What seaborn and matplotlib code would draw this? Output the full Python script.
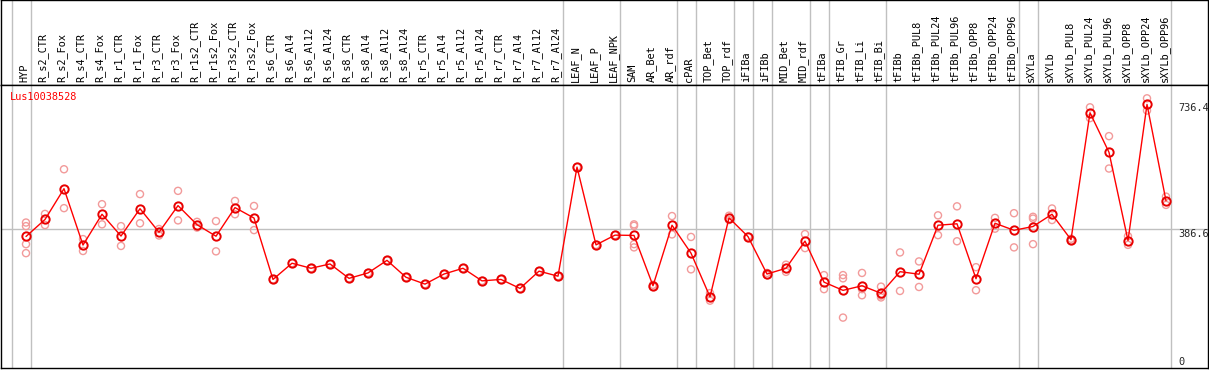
import numpy as np
import pandas as pd
import matplotlib
matplotlib.use('Agg')
import matplotlib.pyplot as plt
import seaborn as sns

####################################
samples = [
    'HYP',
    'R_s2_CTR', 'R_s2_Fox', 'R_s4_CTR', 'R_s4_Fox', 'R_r1_CTR', 'R_r1_Fox',
    'R_r3_CTR', 'R_r3_Fox', 'R_r1s2_CTR', 'R_r1s2_Fox', 'R_r3s2_CTR', 'R_r3s2_Fox',
    'R_s6_CTR', 'R_s6_Al4', 'R_s6_Al12', 'R_s6_Al24',
    'R_s8_CTR', 'R_s8_Al4', 'R_s8_Al12', 'R_s8_Al24',
    'R_r5_CTR', 'R_r5_Al4', 'R_r5_Al12', 'R_r5_Al24',
    'R_r7_CTR', 'R_r7_Al4', 'R_r7_Al12', 'R_r7_Al24',
    'LEAF_N', 'LEAF_P', 'LEAF_NPK',
    'SAM', 'AR_Bet', 'AR_rdf', 'cPAR', 'TOP_Bet', 'TOP_rdf',
    'iFIBa', 'iFIBb', 'MID_Bet', 'MID_rdf', 'tFIBa',
    'tFIB_Gr', 'tFIB_Li', 'tFIB_Bi', 'tFIBb',
    'tFIBb_PUL8', 'tFIBb_PUL24', 'tFIBb_PUL96',
    'tFIBb_OPP8', 'tFIBb_OPP24', 'tFIBb_OPP96',
    'sXYLa', 'sXYLb',
    'sXYLb_PUL8', 'sXYLb_PUL24', 'sXYLb_PUL96',
    'sXYLb_OPP8', 'sXYLb_OPP24', 'sXYLb_OPP96',
]

# replicate expression values per sample
replicates = [
    [404, 394, 344, 319],
    [428, 397], [552, 444], [358, 325], [455, 399], [394, 339], [483, 402],
    [386, 368], [492, 410], [406, 390], [408, 324], [464, 427], [450, 383],
    [246], [291], [277], [289],
    [249], [264], [299], [252],
    [233], [261], [277], [242],
    [246], [221], [269], [255],
    [558], [342], [369],
    [399, 395, 344, 335], [231, 226], [422, 371], [364, 274], [208, 187], [423, 411],
    [365], [264, 258], [287, 267], [372, 333], [258, 219],
    [258, 249, 140], [264, 219, 202], [226, 201, 196], [321, 214],
    [296, 225], [424, 369], [449, 352],
    [280, 216], [417, 387], [430, 335],
    [420, 415, 344], [443, 411],
    [359, 354], [724, 694], [644, 554],
    [366, 342], [749, 715], [476, 453],
]

gene = 'Lus10038528'
y_ticks = [0, 386.6, 736.4]
# group separators sit just after these samples
group_ends = ['HYP', 'R_r7_Al24', 'LEAF_NPK', 'AR_rdf', 'cPAR', 'TOP_rdf', 'iFIBa',
              'iFIBb', 'MID_rdf', 'tFIBa', 'tFIB_Bi', 'tFIBb_OPP96', 'sXYLa', 'sXYLb_OPP96']
####################################

df = pd.DataFrame(
    {
        'pos': [i for i, r in enumerate(replicates) for _ in r],
        'sample': [samples[i] for i, r in enumerate(replicates) for _ in r],
        'value': [v for r in replicates for v in r],
    }
)

sns.set_style('white')
plt.rcParams['font.family'] = ['DejaVu Sans Mono', 'DejaVu Sans']

fig = plt.figure(figsize=(12.09, 3.70), dpi=100)
W, H = 1209, 370
ax_lab = fig.add_axes([1 / W, (H - 85) / H, 1207 / W, 85 / H])
ax = fig.add_axes([1 / W, 2 / H, 1207 / W, 283 / H], sharex=ax_lab)

xmin, xmax = (1 - 26) / 19, (1208 - 26) / 19
ax.set_xlim(xmin, xmax)
ax.set_ylim(0, 786)
ax_lab.set_ylim(0, 1)

# separators and midline
seps = [-0.75] + [samples.index(s) + 0.25 for s in group_ends]
for a in (ax, ax_lab):
    for s in seps:
        a.axvline(s, color='#c0c0c0', lw=1, zorder=0)
ax.axhline(y_ticks[1], color='#c0c0c0', lw=1, zorder=0)

# replicates
sns.scatterplot(data=df, x='pos', y='value', ax=ax, marker='o', s=26,
                facecolor='none', edgecolor='#f29a9a', linewidth=1, zorder=2, legend=False)
# means
sns.lineplot(data=df, x='pos', y='value', ax=ax, estimator='mean', errorbar=None,
             color='#ff0000', lw=1, marker='o', ms=6, mfc='none', mec='#e80000', mew=1.4,
             zorder=3, legend=False)

# sample labels
for i, s in enumerate(samples):
    ax_lab.text(i - 0.1, 0.03, s, rotation=90, ha='center', va='bottom', fontsize=7.4, color='black')

# value labels on the right
tx = (1178 - 26) / 19
ax.text(tx, y_ticks[2], '736.4', ha='left', va='top', fontsize=7.4)
ax.text(tx, y_ticks[1], '386.6', ha='left', va='top', fontsize=7.4)
ax.text(tx, 4, '0', ha='left', va='bottom', fontsize=7.4)

ax.text((10 - 26) / 19, 754, gene, color='red', ha='left', va='center', fontsize=7.4)

for a in (ax, ax_lab):
    a.set_xticks([])
    a.set_yticks([])
    a.set_xlabel('')
    a.set_ylabel('')
    for sp in a.spines.values():
        sp.set_color('black')
        sp.set_linewidth(1)
        sp.set_visible(True)

fig.savefig('out.png', dpi=100)
